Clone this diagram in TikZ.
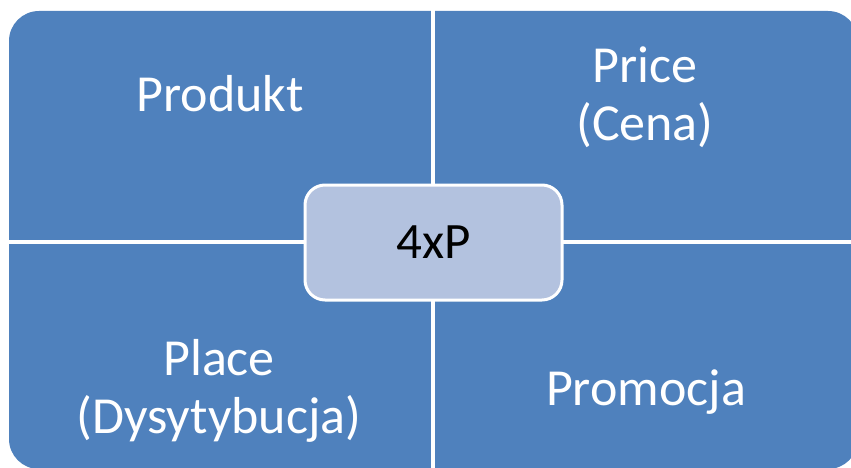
\documentclass[tikz,border=0pt]{standalone}
\usepackage{fontspec}
\setmainfont{Carlito}
\definecolor{quadblue}{RGB}{79,129,189}
\definecolor{coreblue}{RGB}{179,194,223}
\begin{document}
\begin{tikzpicture}[x=1pt,y=-1pt,
		quarter/.style={font=\fontsize{52}{58}\selectfont,text=white,align=center},
		core/.style={draw=white,line width=3pt,fill=coreblue,rounded corners=20pt,minimum width=257pt,minimum height=115pt,font=\fontsize{51}{58}\selectfont}]
		\useasboundingbox (0,0) rectangle (851,468);
		\clip (0,0) rectangle (851,468);
		\fill[quadblue,rounded corners=30pt] (9,11) rectangle (858,469);
		\draw[white,line width=3.5pt] (433,0) -- (433,468);
		\draw[white,line width=3.5pt] (0,242) -- (851,242);
		\node[core] (mix) at (433.5,242.5) {4xP};
		\node[quarter,anchor=base] (produkt) at (220,112) {Produkt};
		\node[quarter,anchor=base] (price) at (645,140) {Price\\(Cena)};
		\node[quarter,anchor=base] (place) at (219,433) {Place\\(Dysytybucja)};
		\node[quarter,anchor=base] (promocja) at (646,405) {Promocja};
		\end{tikzpicture}
\end{document}
